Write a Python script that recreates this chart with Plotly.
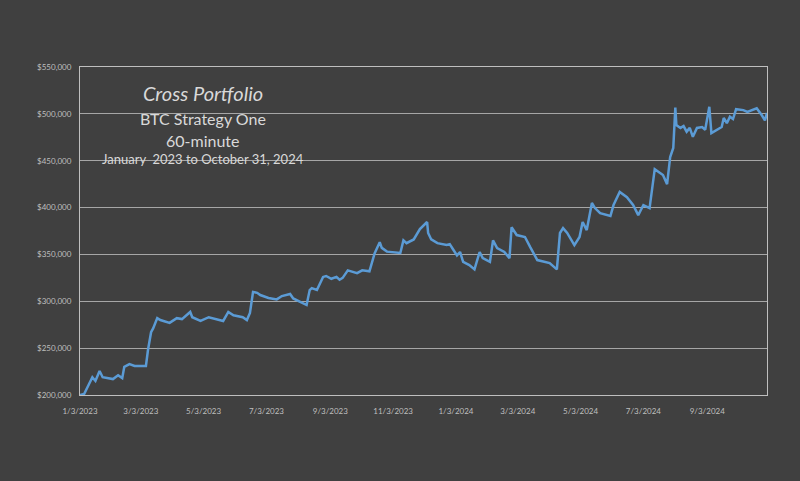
import plotly.graph_objs as go

# equity curve
dates = [
    "2023-01-03", "2023-01-07", "2023-01-15", "2023-01-18", "2023-01-22", "2023-01-25",
    "2023-02-04", "2023-02-09", "2023-02-13", "2023-02-15", "2023-02-20", "2023-02-25",
    "2023-03-08", "2023-03-10", "2023-03-13", "2023-03-15", "2023-03-19", "2023-03-22",
    "2023-03-31", "2023-04-07", "2023-04-12", "2023-04-20", "2023-04-22", "2023-04-30",
    "2023-05-08", "2023-05-16", "2023-05-22", "2023-05-27", "2023-06-01", "2023-06-10",
    "2023-06-14", "2023-06-17", "2023-06-20", "2023-06-24", "2023-06-27", "2023-07-05",
    "2023-07-13", "2023-07-18", "2023-07-26", "2023-07-29", "2023-08-04", "2023-08-07",
    "2023-08-11", "2023-08-14", "2023-08-16", "2023-08-21", "2023-08-27", "2023-08-30",
    "2023-09-04", "2023-09-09", "2023-09-12", "2023-09-15", "2023-09-20", "2023-09-29",
    "2023-10-04", "2023-10-11", "2023-10-16", "2023-10-21", "2023-10-23", "2023-10-28",
    "2023-11-10", "2023-11-13", "2023-11-16", "2023-11-23", "2023-11-29", "2023-12-06",
    "2023-12-07", "2023-12-10", "2023-12-16", "2023-12-25", "2023-12-28", "2023-12-31",
    "2024-01-04", "2024-01-07", "2024-01-10", "2024-01-16", "2024-01-21", "2024-01-26",
    "2024-01-29", "2024-02-05", "2024-02-08", "2024-02-12", "2024-02-19", "2024-02-24",
    "2024-02-26", "2024-03-02", "2024-03-10", "2024-03-15", "2024-03-18", "2024-03-22",
    "2024-04-03", "2024-04-10", "2024-04-13", "2024-04-16", "2024-04-20", "2024-04-27",
    "2024-05-02", "2024-05-05", "2024-05-09", "2024-05-14", "2024-05-17", "2024-05-22",
    "2024-06-01", "2024-06-04", "2024-06-10", "2024-06-17", "2024-06-23", "2024-06-28",
    "2024-07-03", "2024-07-09", "2024-07-14", "2024-07-22", "2024-07-26", "2024-07-29",
    "2024-08-01", "2024-08-03", "2024-08-04", "2024-08-08", "2024-08-11", "2024-08-14",
    "2024-08-17", "2024-08-20", "2024-08-24", "2024-08-29", "2024-09-01", "2024-09-05",
    "2024-09-07", "2024-09-12", "2024-09-17", "2024-09-19", "2024-09-22", "2024-09-25",
    "2024-09-28", "2024-10-01", "2024-10-08", "2024-10-12", "2024-10-16", "2024-10-21",
    "2024-10-26", "2024-10-29", "2024-10-31",
]
balance = [
    200000, 201000, 219000, 215000, 225600, 219000,
    217000, 221000, 218000, 230000, 233000, 231000,
    231000, 248000, 267000, 271000, 282000, 280000,
    277000, 282000, 281000, 288600, 283000, 279000,
    283000, 281000, 279000, 288600, 285000, 283000,
    280000, 287500, 310000, 309000, 306700, 303500,
    302000, 305600, 307800, 303000, 300000, 298000,
    296000, 312000, 314000, 312000, 326000, 327000,
    324000, 326000, 323000, 325000, 333000, 330000,
    333000, 332000, 351000, 363000, 357000, 353000,
    351600, 365000, 362000, 366000, 377000, 384600,
    372900, 366000, 362000, 360000, 361000, 355800,
    349000, 352600, 342000, 338700, 334000, 352600,
    346000, 342000, 365000, 356800, 352600, 346000,
    379000, 370700, 368600, 358000, 351500, 344000,
    340800, 334000, 372900, 378000, 372900, 360000,
    368600, 384600, 376000, 404900, 399500, 394000,
    391000, 402700, 416600, 411000, 402700, 392000,
    402700, 399500, 441000, 434700, 425000, 454000,
    463600, 506600, 488000, 485000, 487000, 481000,
    485000, 475500, 485000, 486000, 483000, 507600,
    479500, 483000, 486000, 495600, 490000, 497000,
    494500, 505000, 504000, 502000, 504000, 506000,
    498500, 493000, 501000,
]
tick_dates = [
    "2023-01-03", "2023-03-03", "2023-05-03", "2023-07-03", "2023-09-03", "2023-11-03",
    "2024-01-03", "2024-03-03", "2024-05-03", "2024-07-03", "2024-09-03",
]
tick_labels = [
    "1/3/2023", "3/3/2023", "5/3/2023", "7/3/2023", "9/3/2023", "11/3/2023",
    "1/3/2024", "3/3/2024", "5/3/2024", "7/3/2024", "9/3/2024",
]

bg = "#404040"
text_col = "#d9d9d9"
tick_col = "#bfbfbf"

line = go.Scatter(
    x=dates, y=balance, mode="lines",
    line=dict(color="#5b9bd5", width=2.5),
    hoverinfo="x+y",
)

layout = go.Layout(
    width=800, height=481,
    paper_bgcolor=bg, plot_bgcolor=bg,
    margin=dict(l=80, r=33, t=67, b=86),
    showlegend=False,
    font=dict(family="Lato, Open Sans, sans-serif", color=tick_col, size=8),
    xaxis=dict(
        type="date",
        range=["2023-01-03", "2024-10-31"],
        tickvals=tick_dates, ticktext=tick_labels,
        showgrid=False, zeroline=False,
        showline=True, linecolor="#bfbfbf", linewidth=1, mirror=True,
        ticks="", ticklabelstandoff=8,
        tickfont=dict(size=8, color=tick_col),
    ),
    yaxis=dict(
        range=[200000, 550000], dtick=50000, tick0=200000,
        tickformat="$,.0f",
        showgrid=True, gridcolor="#a6a6a6", gridwidth=1,
        zeroline=False,
        showline=True, linecolor="#bfbfbf", linewidth=1, mirror=True,
        ticks="", ticklabelstandoff=6,
        tickfont=dict(size=8, color=tick_col),
    ),
)

fig = go.Figure(data=[line], layout=layout)

# title block sits inside the plot area, top left
titles = [
    ("<i>Cross Portfolio</i>", 93, 20),
    ("BTC Strategy One", 118, 16),
    ("60-minute", 140, 16),
    ("January  2023 to October 31, 2024", 159, 13),
]
for txt, ypix, size in titles:
    fig.add_annotation(
        text=txt, xref="paper", yref="paper",
        x=(203 - 80) / 687, y=1 - (ypix - 67) / 328,
        xanchor="center", yanchor="middle", showarrow=False,
        font=dict(family="Lato, Open Sans, sans-serif", size=size, color=text_col),
    )

# drop the browser's default body margin so the chart fills the window
fig.write_html(
    "out.html",
    config={"displayModeBar": False},
    post_script="document.body.style.margin = '0';",
)
